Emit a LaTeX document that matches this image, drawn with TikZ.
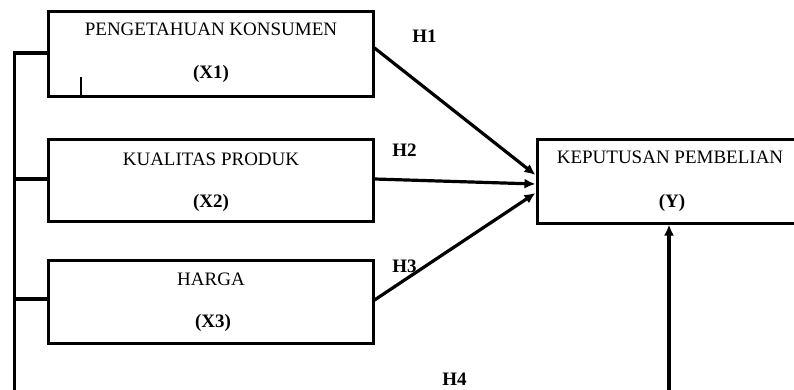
\documentclass[tikz,border=0pt]{standalone}
\usepackage{fontspec}
\setmainfont{Liberation Serif}
\usetikzlibrary{arrows.meta}
\begin{document}
\begin{tikzpicture}[x=1pt,y=-1pt,
  box/.style={draw,line width=3pt,inner sep=0pt},
  txt/.style={anchor=base,inner sep=0pt,font=\fontsize{19}{22}\selectfont},
  btxt/.style={txt,font=\fontsize{19}{22}\selectfont\bfseries},
  conn/.style={line width=3.2pt},
  arr/.style={conn,-{Latex[length=11pt,width=10pt]}}]
\useasboundingbox (0,0) rectangle (794,390);
\clip (0,0) rectangle (794,390);
% boxes
\node[box,minimum width=325pt,minimum height=85pt] (X1) at (210.5,54.5) {};
\node[box,minimum width=325pt,minimum height=81pt] (X2) at (210.5,180.5) {};
\node[box,minimum width=325pt,minimum height=83pt] (X3) at (210.5,301.5) {};
\node[box,minimum width=283pt,minimum height=83pt] (Y) at (678.5,181.5) {};
% texts
\node[txt] (t1) at (211,36) {PENGETAHUAN KONSUMEN};
\node[btxt] (t1b) at (211,79) {(X1)};
\node[txt] (t2) at (211,165) {KUALITAS PRODUK};
\node[btxt] (t2b) at (211,207) {(X2)};
\node[txt] (t3) at (211,285) {HARGA};
\node[btxt] (t3b) at (213,327) {(X3)};
\node[txt] (t4) at (670,164) {KEPUTUSAN PEMBELIAN};
\node[btxt] (t4b) at (672,207) {(Y)};
% hypothesis labels
\node[btxt] (h1) at (424.5,43) {H1};
\node[btxt] (h2) at (404.5,157) {H2};
\node[btxt] (h3) at (404.5,272) {H3};
\node[btxt] (h4) at (454.5,385) {H4};
% coordinates
\coordinate (L0) at (14.5,395);
\coordinate (L1) at (14.5,53);
\coordinate (L2) at (14.5,179);
\coordinate (L3) at (14.5,299);
\coordinate (B0) at (669,395);
\coordinate (tk) at (81,77);
% left bracket
\draw[conn] (L0) -- (L1) -- (X1.west |- L1);
\draw[conn] (L2) -- (X2.west |- L2);
\draw[conn] (L3) -- (X3.west |- L3);
\draw[line width=1.8pt] (tk) -- (tk |- X1.south);
% arrows
\draw[arr] ([yshift=6.5pt]X1.east) -- ([yshift=6.5pt]Y.west);
\draw[arr] ([yshift=1.5pt]X2.east) -- ([yshift=-2.5pt]Y.west);
\draw[arr] ([yshift=1.5pt]X3.east) -- ([yshift=-11.5pt]Y.west);
\draw[arr] (B0) -- (B0 |- Y.south);
\end{tikzpicture}
\end{document}
